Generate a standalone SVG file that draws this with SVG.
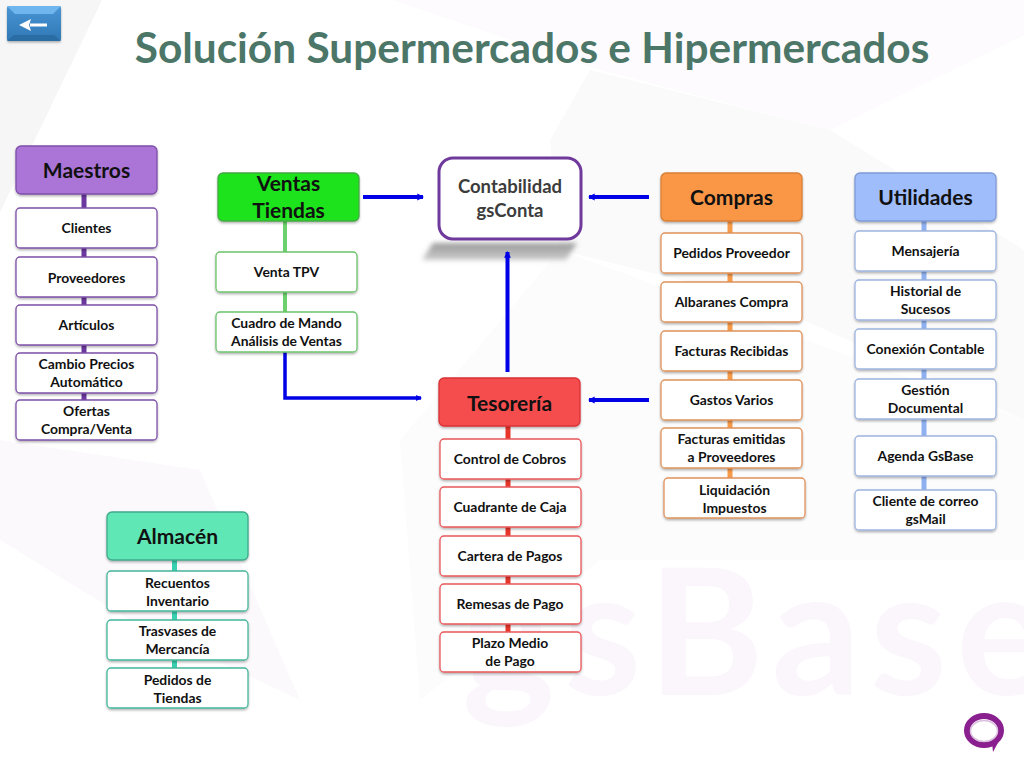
<svg xmlns="http://www.w3.org/2000/svg" width="1024" height="768" viewBox="0 0 1024 768">
<defs>
<filter id="sh" x="-10%" y="-20%" width="120%" height="150%"><feDropShadow dx="0" dy="1.500" stdDeviation="1.200" flood-color="#000" flood-opacity=".3"/></filter>
<filter id="bl" x="-10%" y="-50%" width="120%" height="200%"><feGaussianBlur stdDeviation="2.500"/></filter>
<linearGradient id="btn" x1="0" y1="0" x2="0" y2="1"><stop offset="0" stop-color="#4a95d6"/><stop offset="1" stop-color="#2f78b4"/></linearGradient>
<linearGradient id="shd" x1="0" y1="0" x2="0" y2="1"><stop offset="0" stop-color="#999"/><stop offset="1" stop-color="#ccc"/></linearGradient>
<marker id="ah" viewBox="0 0 6 6" refX="5" refY="3" markerWidth="1.700" markerHeight="2.200" orient="auto"><path d="M0 0L6 3L0 6z" fill="#0000e6"/></marker>
</defs>
<style>
text{font-family:Lato,"Liberation Sans",sans-serif;font-weight:700;text-anchor:middle;fill:#111}
.h{font-size:21px}.i{font-size:13.900px}
g>rect{filter:url(#sh)}
.n{fill:#fff;stroke-width:1.300}
.hd{stroke-width:1.300}
.stem{fill:none;stroke-width:5}
.ar{fill:none;stroke:#0000e6;stroke-width:4;marker-end:url(#ah)}
.p{stroke:#7d50a8}.hp{fill:#ab74d8;stroke:#7d50a8}
.g{stroke:#6cc36c}.hg{fill:#1fe31a;stroke:#46a846}
.o{stroke:#e0935a}.ho{fill:#f99746;stroke:#d98038}
.b{stroke:#9db4e0}.hb{fill:#9fbcfb;stroke:#7f9bd8}
.r{stroke:#e8585a}.hr{fill:#f54d4d;stroke:#d93236}
.t{stroke:#45b79b}.ht{fill:#5fe8b6;stroke:#3fa98c}
</style>
<path id="bg-base" d="M0 0H1024V768H0z" fill="#fff"/>
<path d="M0 0H102L0 212z" fill="#f6f6f7"/>
<path d="M392 0H1024V35L830 130L600 70z" fill="#fdfbfd"/>
<path d="M550 140L590 70L830 130L1024 250V420L760 300L560 250z" fill="#fafafb"/>
<path d="M400 440L560 250L1024 420V560L600 560L420 700z" fill="#fcfcfd"/>
<path d="M0 440L200 470L300 700L130 620L0 540z" fill="#fcf9fd"/>
<text x="462" y="695" font-size="176" letter-spacing="9" style="fill:#fbf5fc;text-anchor:start">gsBase</text>
<g id="back-button">
<rect x="7" y="6" width="54" height="35" rx="2" fill="url(#btn)"/>
<path d="M7 6H61L53 14H15z" fill="#6fb6ee"/>
<path d="M7 41H61L54 35H14z" fill="#2a6ca4"/>
<path d="M47 25H30" stroke="#fff" stroke-width="3"/><path d="M19 25L31 19L29 25L31 31z" fill="#fff"/>
</g>
<text id="title" x="532" y="63" font-size="42.400" style="fill:#4c7768">Solución Supermercados e Hipermercados</text>
<path id="contabilidad-shadow" d="M433 243H577L566 260H422z" fill="url(#shd)" filter="url(#bl)"/>
<g id="connectors">
<path class="stem" stroke="#6b38a0" d="M84 194V400"/>
<path class="stem" stroke="#6cd06c" stroke-width="4" style="stroke-width:4" d="M285 221V352"/>
<path d="M285 352V398H421" fill="none" stroke="#0000e6" stroke-width="3.500" marker-end="url(#ah)"/>
<path class="stem" stroke="#f79a4a" d="M730 220V480"/>
<path class="stem" stroke="#8fb0f0" d="M924 220V492"/>
<path class="stem" stroke="#e8352a" d="M508 426V634"/>
<path class="stem" stroke="#38d0b0" d="M174.500 560V670"/>
<path class="ar" d="M363 197H423"/>
<path class="ar" d="M649 197H589"/>
<path class="ar" d="M649 400H589"/>
<path class="ar" d="M507.500 372V252"/>
</g>
<g id="contabilidad">
<rect x="439" y="158" width="142" height="81" rx="14" fill="#fff" stroke="#6f3a9c" stroke-width="3" style="filter:none"/>
<text x="510" y="193" font-size="18.500" style="fill:#3c3c3c">Contabilidad</text>
<text x="510" y="217" font-size="18.500" style="fill:#3c3c3c">gsConta</text>
</g>
<g id="maestros"><rect class="hd hp" x="16" y="146" width="141" height="48" rx="5"/><text class="h" x="86.500" y="178">Maestros</text></g>
<g id="clientes"><rect class="n p" x="16" y="208" width="141" height="40" rx="4"/><text class="i" x="86.500" y="233">Clientes</text></g>
<g id="proveedores"><rect class="n p" x="16" y="257" width="141" height="40" rx="4"/><text class="i" x="86.500" y="283">Proveedores</text></g>
<g id="articulos"><rect class="n p" x="16" y="305" width="141" height="40" rx="4"/><text class="i" x="86.500" y="330">Artículos</text></g>
<g id="cambio"><rect class="n p" x="16" y="353" width="141" height="40" rx="4"/><text class="i" x="86.500" y="369">Cambio Precios</text><text class="i" x="86.500" y="387">Automático</text></g>
<g id="ofertas"><rect class="n p" x="16" y="400" width="141" height="40" rx="4"/><text class="i" x="86.500" y="416">Ofertas</text><text class="i" x="86.500" y="434">Compra/Venta</text></g>
<g id="ventas"><rect class="hd hg" x="218" y="173" width="141" height="48" rx="5"/><text class="h" x="288.500" y="191">Ventas</text><text class="h" x="288.500" y="218">Tiendas</text></g>
<g id="venta-tpv"><rect class="n g" x="216" y="252" width="141" height="40" rx="4"/><text class="i" x="286.500" y="277">Venta TPV</text></g>
<g id="cuadro"><rect class="n g" x="216" y="312" width="141" height="40" rx="4"/><text class="i" x="286.500" y="328">Cuadro de Mando</text><text class="i" x="286.500" y="346">Análisis de Ventas</text></g>
<g id="compras"><rect class="hd ho" x="661" y="173" width="141" height="48" rx="5"/><text class="h" x="731.500" y="205">Compras</text></g>
<g id="pedidos-proveedor"><rect class="n o" x="661" y="233" width="141" height="40" rx="4"/><text class="i" x="731.500" y="258">Pedidos Proveedor</text></g>
<g id="albaranes"><rect class="n o" x="661" y="282" width="141" height="40" rx="4"/><text class="i" x="731.500" y="307">Albaranes Compra</text></g>
<g id="facturas-recibidas"><rect class="n o" x="661" y="331" width="141" height="40" rx="4"/><text class="i" x="731.500" y="356">Facturas Recibidas</text></g>
<g id="gastos"><rect class="n o" x="661" y="380" width="141" height="40" rx="4"/><text class="i" x="731.500" y="405">Gastos Varios</text></g>
<g id="facturas-emitidas"><rect class="n o" x="661" y="428" width="141" height="40" rx="4"/><text class="i" x="731.500" y="444">Facturas emitidas</text><text class="i" x="731.500" y="462">a Proveedores</text></g>
<g id="liquidacion"><rect class="n o" x="664" y="478" width="141" height="40" rx="4"/><text class="i" x="734.500" y="495">Liquidación</text><text class="i" x="734.500" y="513">Impuestos</text></g>
<g id="utilidades"><rect class="hd hb" x="855" y="173" width="141" height="48" rx="5"/><text class="h" x="925.500" y="205">Utilidades</text></g>
<g id="mensajeria"><rect class="n b" x="855" y="231" width="141" height="40" rx="4"/><text class="i" x="925.500" y="256">Mensajería</text></g>
<g id="historial"><rect class="n b" x="855" y="280" width="141" height="40" rx="4"/><text class="i" x="925.500" y="296">Historial de</text><text class="i" x="925.500" y="314">Sucesos</text></g>
<g id="conexion"><rect class="n b" x="855" y="329" width="141" height="40" rx="4"/><text class="i" x="925.500" y="354">Conexión Contable</text></g>
<g id="gestion"><rect class="n b" x="855" y="379" width="141" height="40" rx="4"/><text class="i" x="925.500" y="395">Gestión</text><text class="i" x="925.500" y="413">Documental</text></g>
<g id="agenda"><rect class="n b" x="855" y="436" width="141" height="40" rx="4"/><text class="i" x="925.500" y="461">Agenda GsBase</text></g>
<g id="cliente-correo"><rect class="n b" x="855" y="490" width="141" height="40" rx="4"/><text class="i" x="925.500" y="506">Cliente de correo</text><text class="i" x="925.500" y="524">gsMail</text></g>
<g id="tesoreria"><rect class="hd hr" x="439" y="378" width="141" height="48" rx="5"/><text class="h" x="509.500" y="411">Tesorería</text></g>
<g id="cobros"><rect class="n r" x="440" y="439" width="141" height="40" rx="4"/><text class="i" x="510" y="464">Control de Cobros</text></g>
<g id="caja"><rect class="n r" x="440" y="487" width="141" height="40" rx="4"/><text class="i" x="510" y="512">Cuadrante de Caja</text></g>
<g id="cartera"><rect class="n r" x="440" y="536" width="141" height="40" rx="4"/><text class="i" x="510" y="561">Cartera de Pagos</text></g>
<g id="remesas"><rect class="n r" x="440" y="584" width="141" height="40" rx="4"/><text class="i" x="510" y="609">Remesas de Pago</text></g>
<g id="plazo"><rect class="n r" x="440" y="632" width="141" height="40" rx="4"/><text class="i" x="510" y="648">Plazo Medio</text><text class="i" x="510" y="666">de Pago</text></g>
<g id="almacen"><rect class="hd ht" x="107" y="512" width="141" height="48" rx="5"/><text class="h" x="177.500" y="544">Almacén</text></g>
<g id="recuentos"><rect class="n t" x="107" y="571" width="141" height="40" rx="4"/><text class="i" x="177.500" y="588">Recuentos</text><text class="i" x="177.500" y="606">Inventario</text></g>
<g id="trasvases"><rect class="n t" x="107" y="620" width="141" height="40" rx="4"/><text class="i" x="177.500" y="636">Trasvases de</text><text class="i" x="177.500" y="654">Mercancía</text></g>
<g id="pedidos-tiendas"><rect class="n t" x="107" y="668" width="141" height="40" rx="4"/><text class="i" x="177.500" y="685">Pedidos de</text><text class="i" x="177.500" y="703">Tiendas</text></g>
<g id="logo"><ellipse cx="984" cy="730.500" rx="17" ry="14.500" fill="none" stroke="#8a1f8f" stroke-width="6"/><ellipse cx="984" cy="731" rx="13.500" ry="10.500" fill="none" stroke="#d9c0dd" stroke-width="1.500"/><path d="M992 743L993 752L1000 739z" fill="#8a1f8f"/></g>
</svg>
